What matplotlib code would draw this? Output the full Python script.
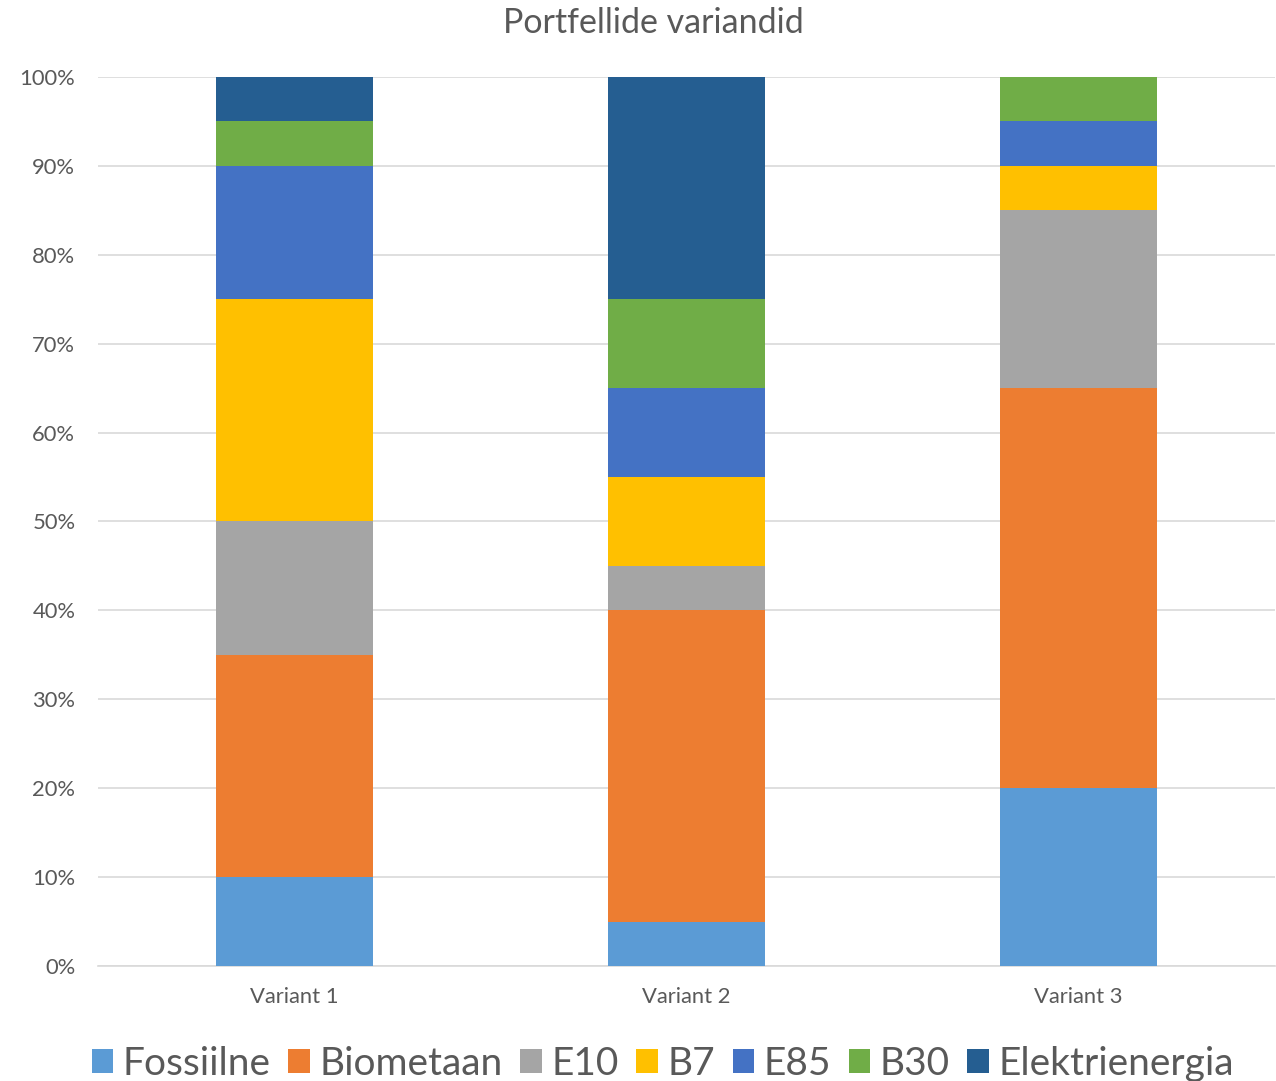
import numpy as np
import matplotlib.pyplot as plt

plt.rcParams['font.family'] = ['Lato', 'DejaVu Sans']

variants = ["Variant 1", "Variant 2", "Variant 3"]
series = ["Fossiilne", "Biometaan", "E10", "B7", "E85", "B30", "Elektrienergia"]
fossiilne = [10, 5, 20]
biometaan = [25, 35, 45]
e10 = [15, 5, 20]
b7 = [25, 10, 5]
e85 = [15, 10, 5]
b30 = [5, 10, 5]
elektrienergia = [5, 25, 0]
values = [fossiilne, biometaan, e10, b7, e85, b30, elektrienergia]
colors = ["#5B9BD5", "#ED7D31", "#A5A5A5", "#FFC000", "#4472C4", "#70AD47", "#255E91"]

fig = plt.figure(figsize=(12.76, 10.81), dpi=100)
ax = fig.add_axes([0.077, 0.1064, 0.922, 0.8224])

x = np.arange(len(variants))
bottom = np.zeros(len(variants))
for name, vals, c in zip(series, values, colors):
    vals = np.array(vals, dtype=float)
    ax.bar(x, vals, 0.4, bottom=bottom, color=c, label=name, zorder=3)
    bottom += vals

ax.set_xlim(-0.5, 2.5)
ax.set_ylim(0, 100)
ax.set_yticks(range(0, 101, 10))
ax.set_yticklabels([f"{v}%" for v in range(0, 101, 10)])
ax.set_xticks(x)
ax.set_xticklabels(variants)
ax.tick_params(length=0, colors="#595959", labelsize=15.8)
ax.tick_params(axis='x', pad=15)
ax.tick_params(axis='y', pad=16.5)
ax.grid(axis='y', color="#D9D9D9", linewidth=1.2, zorder=0)
for s in ["top", "right", "left"]:
    ax.spines[s].set_visible(False)
ax.spines["bottom"].set_color("#D9D9D9")
ax.spines["bottom"].set_linewidth(1.2)

fig.text(0.512, 0.979, "Portfellide variandid", ha='center', va='center', fontsize=24.5, color="#595959")

ax.legend(loc='center', bbox_to_anchor=(0.48, -0.11), ncol=7, frameon=False,
          fontsize=28, labelcolor="#595959", handlelength=0.55, handleheight=0.55,
          handletextpad=0.25, columnspacing=0.45)

fig.savefig("out.png", dpi=100)
